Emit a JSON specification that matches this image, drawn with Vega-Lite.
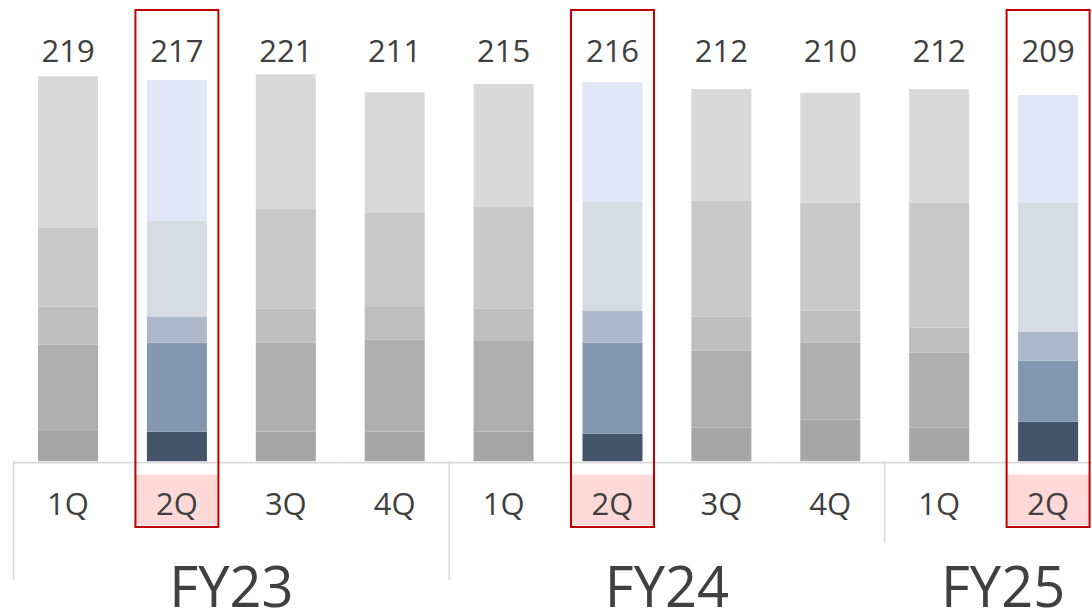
{
  "$schema": "https://vega.github.io/schema/vega-lite/v6.json",
  "width": 1092,
  "height": 611,
  "autosize": {"type": "none"},
  "padding": 0,
  "background": "white",
  "config": {"view": {"stroke": null}, "text": {"font": "Open Sans", "color": "#404040"}},
  "datasets": {
    "segs": [
      {"bar": "FY23 1Q", "q": "1Q", "seg": 1, "v": 18.0}, {"bar": "FY23 1Q", "q": "1Q", "seg": 2, "v": 48.2}, {"bar": "FY23 1Q", "q": "1Q", "seg": 3, "v": 21.7}, {"bar": "FY23 1Q", "q": "1Q", "seg": 4, "v": 44.6}, {"bar": "FY23 1Q", "q": "1Q", "seg": 5, "v": 86.2},
      {"bar": "FY23 2Q", "q": "2Q", "seg": 1, "v": 16.8}, {"bar": "FY23 2Q", "q": "2Q", "seg": 2, "v": 50.5}, {"bar": "FY23 2Q", "q": "2Q", "seg": 3, "v": 14.7}, {"bar": "FY23 2Q", "q": "2Q", "seg": 4, "v": 54.5}, {"bar": "FY23 2Q", "q": "2Q", "seg": 5, "v": 80.0},
      {"bar": "FY23 3Q", "q": "3Q", "seg": 1, "v": 16.8}, {"bar": "FY23 3Q", "q": "3Q", "seg": 2, "v": 50.5}, {"bar": "FY23 3Q", "q": "3Q", "seg": 3, "v": 19.3}, {"bar": "FY23 3Q", "q": "3Q", "seg": 4, "v": 56.7}, {"bar": "FY23 3Q", "q": "3Q", "seg": 5, "v": 76.6},
      {"bar": "FY23 4Q", "q": "4Q", "seg": 1, "v": 16.8}, {"bar": "FY23 4Q", "q": "4Q", "seg": 2, "v": 52.2}, {"bar": "FY23 4Q", "q": "4Q", "seg": 3, "v": 18.7}, {"bar": "FY23 4Q", "q": "4Q", "seg": 4, "v": 53.3}, {"bar": "FY23 4Q", "q": "4Q", "seg": 5, "v": 68.6},
      {"bar": "FY24 1Q", "q": "1Q", "seg": 1, "v": 16.8}, {"bar": "FY24 1Q", "q": "1Q", "seg": 2, "v": 51.6}, {"bar": "FY24 1Q", "q": "1Q", "seg": 3, "v": 18.2}, {"bar": "FY24 1Q", "q": "1Q", "seg": 4, "v": 57.9}, {"bar": "FY24 1Q", "q": "1Q", "seg": 5, "v": 69.8},
      {"bar": "FY24 2Q", "q": "2Q", "seg": 1, "v": 15.7}, {"bar": "FY24 2Q", "q": "2Q", "seg": 2, "v": 51.6}, {"bar": "FY24 2Q", "q": "2Q", "seg": 3, "v": 18.2}, {"bar": "FY24 2Q", "q": "2Q", "seg": 4, "v": 61.8}, {"bar": "FY24 2Q", "q": "2Q", "seg": 5, "v": 68.1},
      {"bar": "FY24 3Q", "q": "3Q", "seg": 1, "v": 19.1}, {"bar": "FY24 3Q", "q": "3Q", "seg": 2, "v": 43.7}, {"bar": "FY24 3Q", "q": "3Q", "seg": 3, "v": 19.3}, {"bar": "FY24 3Q", "q": "3Q", "seg": 4, "v": 65.8}, {"bar": "FY24 3Q", "q": "3Q", "seg": 5, "v": 63.5},
      {"bar": "FY24 4Q", "q": "4Q", "seg": 1, "v": 23.7}, {"bar": "FY24 4Q", "q": "4Q", "seg": 2, "v": 43.7}, {"bar": "FY24 4Q", "q": "4Q", "seg": 3, "v": 18.2}, {"bar": "FY24 4Q", "q": "4Q", "seg": 4, "v": 61.3}, {"bar": "FY24 4Q", "q": "4Q", "seg": 5, "v": 62.4},
      {"bar": "FY25 1Q", "q": "1Q", "seg": 1, "v": 19.1}, {"bar": "FY25 1Q", "q": "1Q", "seg": 2, "v": 42.5}, {"bar": "FY25 1Q", "q": "1Q", "seg": 3, "v": 14.2}, {"bar": "FY25 1Q", "q": "1Q", "seg": 4, "v": 70.9}, {"bar": "FY25 1Q", "q": "1Q", "seg": 5, "v": 64.7},
      {"bar": "FY25 2Q", "q": "2Q", "seg": 1, "v": 22.5}, {"bar": "FY25 2Q", "q": "2Q", "seg": 2, "v": 34.6}, {"bar": "FY25 2Q", "q": "2Q", "seg": 3, "v": 16.4}, {"bar": "FY25 2Q", "q": "2Q", "seg": 4, "v": 73.2}, {"bar": "FY25 2Q", "q": "2Q", "seg": 5, "v": 61.3}
    ],
    "bars": [
      {"bar": "FY23 1Q", "fy": "FY23", "q": "1Q", "total": 219},
      {"bar": "FY23 2Q", "fy": "FY23", "q": "2Q", "total": 217},
      {"bar": "FY23 3Q", "fy": "FY23", "q": "3Q", "total": 221},
      {"bar": "FY23 4Q", "fy": "FY23", "q": "4Q", "total": 211},
      {"bar": "FY24 1Q", "fy": "FY24", "q": "1Q", "total": 215},
      {"bar": "FY24 2Q", "fy": "FY24", "q": "2Q", "total": 216},
      {"bar": "FY24 3Q", "fy": "FY24", "q": "3Q", "total": 212},
      {"bar": "FY24 4Q", "fy": "FY24", "q": "4Q", "total": 210},
      {"bar": "FY25 1Q", "fy": "FY25", "q": "1Q", "total": 212},
      {"bar": "FY25 2Q", "fy": "FY25", "q": "2Q", "total": 209}
    ]
  },
  "layer": [
    {
      "data": {"name": "segs"},
      "transform": [{"calculate": "(datum.q == '2Q' ? 'b' : 'g') + datum.seg", "as": "key"}],
      "mark": {"type": "bar"},
      "encoding": {
        "x": {"field": "bar", "type": "nominal", "sort": null, "axis": null,
          "scale": {"type": "band", "paddingInner": 0.449, "paddingOuter": 0.2385, "align": 0.732, "round": false}},
        "y": {"field": "v", "type": "quantitative", "stack": "zero", "axis": null,
          "scale": {"domain": [-85, 262], "nice": false, "zero": false}},
        "order": {"field": "seg", "type": "quantitative"},
        "color": {"field": "key", "type": "nominal", "legend": null,
          "scale": {"domain": ["g1", "g2", "g3", "g4", "g5", "b1", "b2", "b3", "b4", "b5"],
            "range": ["#a6a6a6", "#afafaf", "#bebebe", "#c9c9c9", "#d9d9d9", "#44546a", "#8497b0", "#adb9ca", "#d6dce4", "#e1e7f6"]}}
      }
    },
    {
      "data": {"name": "bars"},
      "transform": [{"filter": "datum.q == '2Q'"}],
      "mark": {"type": "bar", "fill": "#ffd9d7", "width": {"band": 1.367}},
      "encoding": {
        "x": {"field": "bar", "type": "nominal", "sort": null},
        "y": {"datum": -7.5, "type": "quantitative"}, "y2": {"datum": -36.3}}
    },
    {
      "data": {"name": "bars"},
      "mark": {"type": "bar", "fill": "#d9d9d9", "width": {"band": 1.815}},
      "encoding": {
        "x": {"field": "bar", "type": "nominal", "sort": null},
        "y": {"datum": -0.2, "type": "quantitative"}, "y2": {"datum": -1.2}}
    },
    {
      "data": {"name": "bars"},
      "mark": {"type": "text", "fontSize": 31, "baseline": "alphabetic", "align": "center"},
      "encoding": {
        "x": {"field": "bar", "type": "nominal", "sort": null},
        "y": {"datum": 226.6, "type": "quantitative"}, "text": {"field": "total", "type": "quantitative"}}
    },
    {
      "data": {"name": "bars"},
      "mark": {"type": "text", "fontSize": 31, "baseline": "alphabetic", "align": "center"},
      "encoding": {
        "x": {"field": "bar", "type": "nominal", "sort": null},
        "y": {"datum": -30.5, "type": "quantitative"}, "text": {"field": "q", "type": "nominal"}}
    },
    {
      "data": {"name": "bars"},
      "transform": [{"filter": "datum.q == '1Q' && datum.fy != 'FY25'"}],
      "mark": {"type": "rule", "color": "#d9d9d9", "strokeWidth": 1.5},
      "encoding": {
        "x": {"field": "bar", "type": "nominal", "sort": null, "bandPosition": -0.4075},
        "y": {"datum": 0, "type": "quantitative"}, "y2": {"datum": -67.3}}
    },
    {
      "data": {"name": "bars"},
      "transform": [{"filter": "datum.q == '1Q' && datum.fy == 'FY25'"}],
      "mark": {"type": "rule", "color": "#d9d9d9", "strokeWidth": 1.5},
      "encoding": {
        "x": {"field": "bar", "type": "nominal", "sort": null, "bandPosition": -0.4075},
        "y": {"datum": 0, "type": "quantitative"}, "y2": {"datum": -46.4}}
    },
    {
      "data": {"name": "bars"},
      "transform": [{"filter": "datum.q == '2Q' && datum.fy != 'FY25'"}],
      "mark": {"type": "text", "fontSize": 56, "baseline": "alphabetic", "align": "center"},
      "encoding": {
        "x": {"field": "bar", "type": "nominal", "sort": null, "bandPosition": 1.4075},
        "y": {"datum": -82.5, "type": "quantitative"}, "text": {"field": "fy", "type": "nominal"}}
    },
    {
      "data": {"name": "bars"},
      "transform": [{"filter": "datum.q == '2Q' && datum.fy == 'FY25'"}],
      "mark": {"type": "text", "fontSize": 56, "baseline": "alphabetic", "align": "center"},
      "encoding": {
        "x": {"field": "bar", "type": "nominal", "sort": null, "bandPosition": -0.25},
        "y": {"datum": -82.5, "type": "quantitative"}, "text": {"field": "fy", "type": "nominal"}}
    },
    {
      "data": {"name": "bars"},
      "transform": [{"filter": "datum.q == '2Q'"}],
      "mark": {"type": "bar", "fill": "transparent", "stroke": "#c00000", "strokeWidth": 2, "width": {"band": 1.383}},
      "encoding": {
        "x": {"field": "bar", "type": "nominal", "sort": null},
        "y": {"datum": 256.3, "type": "quantitative"}, "y2": {"datum": -37.3}}
    }
  ]
}
